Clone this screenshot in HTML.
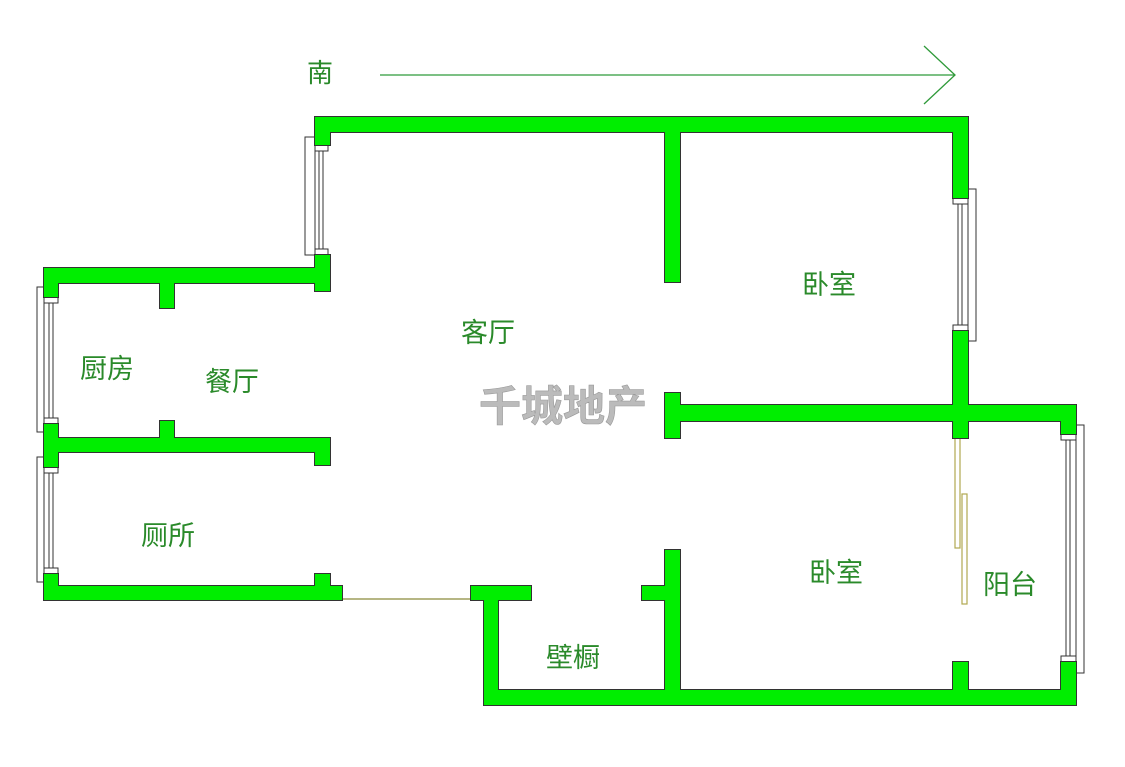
<!DOCTYPE html>
<html><head><meta charset="utf-8"><style>
body{margin:0;background:#fff;width:1125px;height:762px;overflow:hidden}
svg text{font-family:"Liberation Sans","Noto Sans CJK SC",sans-serif}
</style></head><body>
<svg width="1125" height="762" viewBox="0 0 1125 762">
<line x1="380" y1="75" x2="955" y2="75" stroke="#2f9a3a" stroke-width="1.3"/>
<polyline points="924,46 955,75 924,104" fill="none" stroke="#2f9a3a" stroke-width="1.3"/>
<text x="320" y="82" font-size="26" fill="#2a8a2a" text-anchor="middle">南</text>
<g fill="#fff" stroke="#333" stroke-width="1">
<rect x="305" y="137" width="10" height="118"/>
<rect x="315" y="145" width="13" height="6"/><rect x="315" y="249" width="13" height="6"/>
<line x1="319" y1="151" x2="319" y2="249"/><line x1="323" y1="151" x2="323" y2="249"/>
<rect x="37" y="287" width="7" height="145"/>
<rect x="44" y="297" width="14" height="6"/><rect x="44" y="418" width="14" height="6"/>
<line x1="49" y1="303" x2="49" y2="418"/><line x1="53" y1="303" x2="53" y2="418"/>
<rect x="37" y="457" width="7" height="125"/>
<rect x="44" y="467" width="14" height="6"/><rect x="44" y="568" width="14" height="6"/>
<line x1="49" y1="473" x2="49" y2="568"/><line x1="53" y1="473" x2="53" y2="568"/>
<rect x="968" y="189" width="8" height="152"/>
<rect x="953" y="198" width="15" height="6"/><rect x="953" y="325" width="15" height="6"/>
<line x1="958" y1="204" x2="958" y2="325"/><line x1="962" y1="204" x2="962" y2="325"/>
<rect x="1076" y="425" width="8" height="248"/>
<rect x="1061" y="434" width="15" height="6"/><rect x="1061" y="656" width="15" height="6"/>
<line x1="1066" y1="440" x2="1066" y2="656"/><line x1="1070" y1="440" x2="1070" y2="656"/>
</g>
<line x1="342" y1="599" x2="472" y2="599" stroke="#8a8a3a" stroke-width="1.2"/>
<rect x="955" y="438" width="5" height="110" fill="#fff" stroke="#b0a850" stroke-width="1.2"/>
<rect x="962" y="494" width="5" height="110" fill="#fff" stroke="#b0a850" stroke-width="1.2"/>
<g id="w">
<rect x="315" y="117" width="653" height="15"/>
<rect x="315" y="117" width="15" height="28"/>
<rect x="315" y="255" width="15" height="36"/>
<rect x="44" y="268" width="286" height="15"/>
<rect x="44" y="268" width="14" height="29"/>
<rect x="44" y="424" width="14" height="43"/>
<rect x="160" y="283" width="14" height="25"/>
<rect x="44" y="438" width="286" height="14"/>
<rect x="315" y="438" width="15" height="27"/>
<rect x="160" y="421" width="14" height="17"/>
<rect x="44" y="574" width="14" height="26"/>
<rect x="44" y="586" width="298" height="14"/>
<rect x="315" y="574" width="15" height="12"/>
<rect x="471" y="586" width="60" height="14"/>
<rect x="484" y="586" width="14" height="119"/>
<rect x="484" y="690" width="592" height="15"/>
<rect x="665" y="550" width="15" height="145"/>
<rect x="642" y="586" width="38" height="14"/>
<rect x="665" y="132" width="15" height="150"/>
<rect x="665" y="405" width="411" height="16"/>
<rect x="665" y="393" width="15" height="45"/>
<rect x="953" y="117" width="15" height="81"/>
<rect x="953" y="331" width="15" height="107"/>
<rect x="1061" y="405" width="15" height="29"/>
<rect x="1061" y="662" width="15" height="43"/>
<rect x="953" y="662" width="15" height="33"/>
</g>
<use href="#w" fill="none" stroke="#333" stroke-width="2"/>
<use href="#w" fill="#00ee00"/>
<g font-size="27" fill="#2a8a2a" text-anchor="middle">
<text x="488" y="342">客厅</text>
<text x="829" y="294">卧室</text>
<text x="836" y="582">卧室</text>
<text x="1010" y="594">阳台</text>
<text x="107" y="378">厨房</text>
<text x="232" y="391">餐厅</text>
<text x="168" y="545">厕所</text>
<text x="573" y="667">壁橱</text>
</g>
<text x="563" y="421" font-size="42" font-weight="bold" fill="#bbb" stroke="#999" stroke-width="0.6" text-anchor="middle">千城地产</text>
</svg>
</body></html>
